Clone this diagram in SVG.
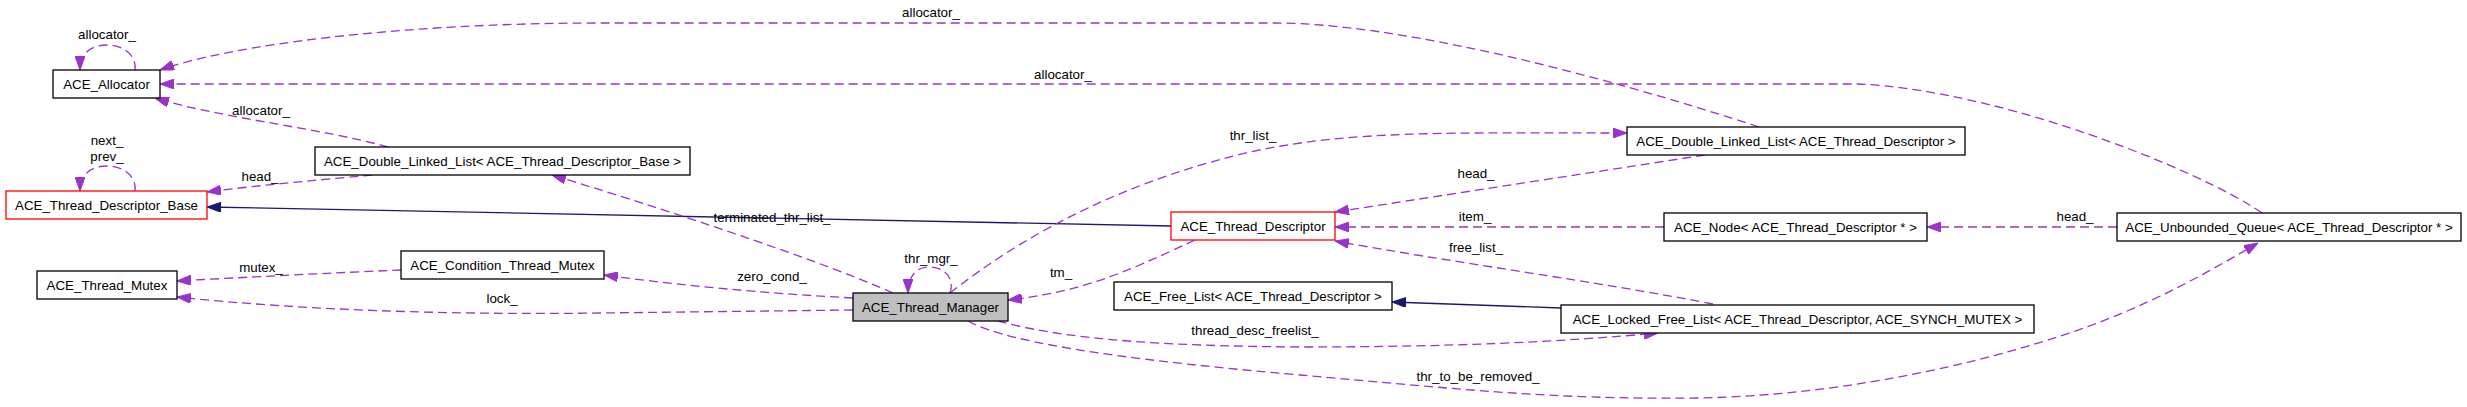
<svg xmlns="http://www.w3.org/2000/svg" width="2467" height="407" viewBox="0 0 2467 407">
<style>
text{font-family:"Liberation Sans",Arial,Helvetica,sans-serif;font-size:13.33px;fill:#000}
.n text,.lbl{text-anchor:middle}
.box{fill:#fff;stroke:#000;stroke-width:1.3}
.red{stroke:#ff0000}
.cur{fill:#bfbfbf}
.u{fill:none;stroke:#9a32cd;stroke-width:1.3;stroke-dasharray:9,5;marker-end:url(#ap)}
.i{fill:none;stroke:#191970;stroke-width:1.3;marker-end:url(#an)}
</style>
<defs>
<marker id="ap" markerWidth="14" markerHeight="10" refX="14" refY="5" orient="auto" markerUnits="userSpaceOnUse"><path d="M0,0 L14,5 L0,10 z" fill="#9a32cd" stroke="#9a32cd" stroke-width="1"/></marker>
<marker id="an" markerWidth="14" markerHeight="10" refX="14" refY="5" orient="auto" markerUnits="userSpaceOnUse"><path d="M0,0 L14,5 L0,10 z" fill="#191970" stroke="#191970" stroke-width="1"/></marker>
</defs>
<rect width="2467" height="407" fill="#fff"/>
<g id="edges">
<path class="u" d="M135,70 C137,57 125,45 107,45 C90,45 80,54 80,70"/>
<text class="lbl" x="107" y="39">allocator_</text>
<path class="u" d="M1759,127 C1600,75 1400,23 1274,23 L600,23 C400,23 230,45 160,70"/>
<text class="lbl" x="931" y="17">allocator_</text>
<path class="u" d="M2262,213 C2200,170 2000,90 1858,84 L160,84"/>
<text class="lbl" x="1063" y="79">allocator_</text>
<path class="u" d="M388,147 C320,128 220,118 155,98"/>
<text class="lbl" x="261" y="115">allocator_</text>
<path class="u" d="M372,175 C320,180 260,185 207,192"/>
<text class="lbl" x="260" y="181">head_</text>
<path class="u" d="M135,191 C137,178 125,166 107,166 C90,166 80,175 80,191"/>
<text class="lbl" x="107" y="145">next_</text>
<text class="lbl" x="107" y="161">prev_</text>
<path class="i" d="M1171,226 L207,207"/>
<path class="u" d="M893,293 C830,265 700,220 552,175"/>
<text class="lbl" x="772" y="222">terminated_thr_list_</text>
<path class="u" d="M401,270 C330,273 250,277 177,281"/>
<text class="lbl" x="261" y="272">mutex_</text>
<path class="u" d="M853,310 L600,313 C450,315 300,310 177,297"/>
<text class="lbl" x="502" y="303">lock_</text>
<path class="u" d="M853,298 C780,294 700,288 604,275"/>
<text class="lbl" x="772" y="281">zero_cond_</text>
<path class="u" d="M950,293 C955,279 945,267 929,267 C915,267 908,278 908,293"/>
<text class="lbl" x="931" y="263">thr_mgr_</text>
<path class="u" d="M1195,240 C1120,275 1080,292 1008,300"/>
<text class="lbl" x="1061" y="277">tm_</text>
<path class="u" d="M950,293 C1030,230 1130,180 1250,152 C1350,130 1450,133 1627,133"/>
<text class="lbl" x="1253" y="140">thr_list_</text>
<path class="u" d="M1705,155 L1335,212"/>
<text class="lbl" x="1476" y="178">head_</text>
<path class="u" d="M1664,227 L1335,227"/>
<text class="lbl" x="1475" y="221">item_</text>
<path class="u" d="M1713,304 C1600,282 1450,262 1335,241"/>
<text class="lbl" x="1476" y="252">free_list_</text>
<path class="i" d="M1561,308 L1392,302"/>
<path class="u" d="M998,321 C1060,338 1150,346 1300,347 C1450,347 1560,342 1658,333"/>
<text class="lbl" x="1255" y="335">thread_desc_freelist_</text>
<path class="u" d="M968,321 C1010,345 1150,362 1300,375 C1450,388 1550,400 1700,398 C1850,395 2000,360 2100,322 C2170,295 2220,265 2258,243"/>
<text class="lbl" x="1478" y="381">thr_to_be_removed_</text>
<path class="u" d="M2117,227 L1927,227"/>
<text class="lbl" x="2075" y="221">head_</text>
</g>
<g id="ACE_Allocator" class="n"><rect class="box" x="53" y="70" width="107" height="28"/><text x="106.5" y="89">ACE_Allocator</text></g>
<g id="ACE_Thread_Descriptor_Base" class="n"><rect class="box red" x="6" y="191" width="201" height="28"/><text x="106.5" y="210">ACE_Thread_Descriptor_Base</text></g>
<g id="ACE_Thread_Mutex" class="n"><rect class="box" x="37" y="271" width="140" height="28"/><text x="107" y="290">ACE_Thread_Mutex</text></g>
<g id="ACE_Double_Linked_List_Base" class="n"><rect class="box" x="315" y="147" width="375" height="28"/><text x="502.5" y="166">ACE_Double_Linked_List&lt; ACE_Thread_Descriptor_Base &gt;</text></g>
<g id="ACE_Condition_Thread_Mutex" class="n"><rect class="box" x="401" y="251" width="203" height="28"/><text x="502.5" y="270">ACE_Condition_Thread_Mutex</text></g>
<g id="ACE_Thread_Manager" class="n"><rect class="box cur" x="853" y="293" width="155" height="28"/><text x="930.5" y="312">ACE_Thread_Manager</text></g>
<g id="ACE_Thread_Descriptor" class="n"><rect class="box red" x="1171" y="212" width="164" height="28"/><text x="1253" y="231">ACE_Thread_Descriptor</text></g>
<g id="ACE_Free_List" class="n"><rect class="box" x="1114" y="282" width="278" height="28"/><text x="1253" y="301">ACE_Free_List&lt; ACE_Thread_Descriptor &gt;</text></g>
<g id="ACE_Double_Linked_List_TD" class="n"><rect class="box" x="1627" y="127" width="338" height="28"/><text x="1796" y="146">ACE_Double_Linked_List&lt; ACE_Thread_Descriptor &gt;</text></g>
<g id="ACE_Node" class="n"><rect class="box" x="1664" y="213" width="263" height="28"/><text x="1795.5" y="232">ACE_Node&lt; ACE_Thread_Descriptor * &gt;</text></g>
<g id="ACE_Locked_Free_List" class="n"><rect class="box" x="1561" y="305" width="473" height="28"/><text x="1797.5" y="324">ACE_Locked_Free_List&lt; ACE_Thread_Descriptor, ACE_SYNCH_MUTEX &gt;</text></g>
<g id="ACE_Unbounded_Queue" class="n"><rect class="box" x="2117" y="213" width="344" height="28"/><text x="2289" y="232">ACE_Unbounded_Queue&lt; ACE_Thread_Descriptor * &gt;</text></g>
</svg>
